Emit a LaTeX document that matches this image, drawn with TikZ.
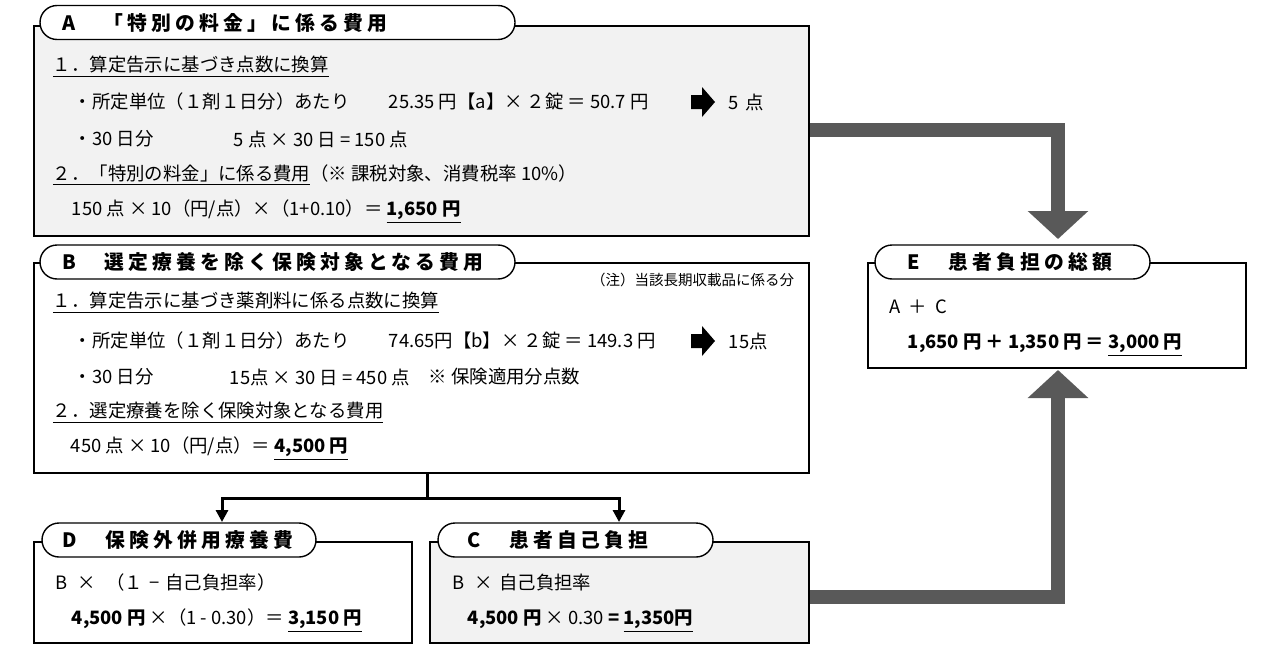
\documentclass[tikz,border=0pt]{standalone}
\usepackage{fontspec}
\setmainfont{Noto Sans CJK JP}
\newfontfamily\titlefont[LetterSpace=21]{Noto Sans CJK JP}
\usepackage{xcolor}
\usepackage{tikz}
\usetikzlibrary{shapes, arrows.meta, positioning, calc}

\definecolor{panelgray}{HTML}{F2F2F2}
\definecolor{arrowgray}{HTML}{595959}

\begin{document}
\begin{tikzpicture}[x=0.5pt, y=-0.5pt, thick,
    font=\fontsize{9.2pt}{11pt}\selectfont,
    panel/.style={draw, line width=0.9pt, anchor=north west, inner sep=0},
    pill/.style={rounded rectangle, draw, line width=0.7pt, fill=white, inner sep=0, minimum height=17pt},
    ttl/.style={anchor=west, inner sep=0, font=\titlefont\bfseries\fontsize{9.9pt}{12pt}\selectfont},
    txt/.style={anchor=west, inner sep=0},
    note/.style={anchor=east, inner sep=0, font=\fontsize{7.25pt}{9pt}\selectfont},
    conn/.style={line width=1.5pt},
    bigarrow/.style={line width=7pt, arrowgray, -{Triangle[length=14pt, width=29.5pt]}}]
    \useasboundingbox (0,0) rectangle (1270,648);

    % Boxes
    \node[panel, fill=panelgray, minimum width=387.5pt, minimum height=105pt] (boxA) at (33,25) {};
    \node[panel, fill=white, minimum width=387.5pt, minimum height=105pt] (boxB) at (33,262) {};
    \node[panel, fill=white, minimum width=189pt, minimum height=50.5pt] (boxD) at (33,541) {};
    \node[panel, fill=panelgray, minimum width=189.5pt, minimum height=50.5pt] (boxC) at (429,541) {};
    \node[panel, fill=white, minimum width=189pt, minimum height=52.5pt] (boxE) at (867,262) {};

    % Title tabs
    \node[pill, minimum width=237.5pt] (tabA) at (277.5,22.5) {};
    \node[pill, minimum width=237.5pt] (tabB) at (277.5,262) {};
    \node[pill, minimum width=137pt] (tabD) at (179,540) {};
    \node[pill, minimum width=137.5pt] (tabC) at (575.5,540) {};
    \node[pill, minimum width=137.5pt] (tabE) at (1012.5,262) {};

    \node[ttl] (ttlA) at (62,22.5) {A　「特別の料金」に係る費用};
    \node[ttl] (ttlB) at (62,262) {B　選定療養を除く保険対象となる費用};
    \node[ttl] (ttlD) at (62,540) {D　保険外併用療養費};
    \node[ttl] (ttlC) at (467,540) {C　患者自己負担};
    \node[ttl] (ttlE) at (907,262) {E　患者負担の総額};

    % A
    \node[txt] (a1) at (52,67) {\underline{１．算定告示に基づき点数に換算}};
    \node[txt] (a2) at (73,102) {・所定単位（１剤１日分）あたり};
    \node[txt] (a2calc) at (388,102) {25.35 円【a】× ２錠 ＝ 50.7 円};
    \coordinate (arrA) at (703,102);
    \node[txt] (a2pt) at (728,102) {5\hspace{3pt}点};
    \node[txt] (a3) at (73,139) {・30 日分};
    \node[txt] (a3calc) at (233,139) {5 点 × 30 日 = 150 点};
    \node[txt] (a4) at (52,175) {\underline{２．「特別の料金」に係る費用}（※ 課税対象、消費税率 10\%）};
    \node[txt] (a5) at (71,212) {150 点 × 10（円/点）×（1+0.10）＝ \textbf{\underline{1,650 円}}};

    % B
    \node[note] (bnote) at (795,280) {（注）当該長期収載品に係る分};
    \node[txt] (b1) at (52,303) {\underline{１．算定告示に基づき薬剤料に係る点数に換算}};
    \node[txt] (b2) at (73,341) {・所定単位（１剤１日分）あたり};
    \node[txt] (b2calc) at (388,341) {74.65円【b】× ２錠 ＝ 149.3 円};
    \coordinate (arrB) at (703,341);
    \node[txt] (b2pt) at (728,341) {15点};
    \node[txt] (b3) at (73,377) {・30 日分};
    \node[txt] (b3calc) at (229,377) {15点 × 30 日 = 450 点};
    \node[txt] (b3note) at (428,377) {※ 保険適用分点数};
    \node[txt] (b4) at (52,413) {\underline{２．選定療養を除く保険対象となる費用}};
    \node[txt] (b5) at (70,449) {450 点 × 10（円/点）＝ \textbf{\underline{4,500 円}}};

    % D
    \node[txt] (d1) at (55,583) {B\hspace{5pt}×\hspace{5pt}（１\hspace{3pt}−\hspace{3pt}自己負担率）};
    \node[txt] (d2) at (71,621) {\textbf{4,500 円} ×（1 - 0.30）＝ \textbf{\underline{3,150 円}}};

    % C
    \node[txt] (c1) at (452,583) {B\hspace{5pt}×\hspace{3pt}自己負担率};
    \node[txt] (c2) at (467,621) {\textbf{4,500 円} × 0.30 \textbf{= \underline{1,350円}}};

    % E
    \node[txt] (e1) at (889,307) {A\hspace{4pt}＋\hspace{4pt}C};
    \node[txt] (e2) at (907,345) {\textbf{1,650 円\hspace{2pt}＋\hspace{2pt}1,350 円\hspace{2pt}＝\hspace{2pt}\underline{3,000 円}}};

    % Block arrows
    \fill ($(arrA)+(-12,-7)$) -- ++(11,0) -- ++(0,-8) -- ++(13,15) -- ++(-13,15) -- ++(0,-8) -- ++(-11,0) -- cycle;
    \fill ($(arrB)+(-12,-7)$) -- ++(11,0) -- ++(0,-8) -- ++(13,15) -- ++(-13,15) -- ++(0,-8) -- ++(-11,0) -- cycle;

    % Split B into D and C
    \coordinate (split) at (427,498);
    \coordinate (toD) at (222,522);
    \coordinate (toC) at (619,522);
    \draw[conn] (split |- boxB.south) -- (split);
    \draw[conn, -{Triangle[length=6pt, width=6pt]}] (split) -| (toD);
    \draw[conn, -{Triangle[length=6pt, width=6pt]}] (split) -| (toC);

    % A and C into E
    \coordinate (fromA) at (1058,239);
    \coordinate (fromC) at (1058,370);
    \draw[bigarrow] (boxA.east |- 0,130) -| (fromA);
    \draw[bigarrow] (boxC.east |- 0,597) -| (fromC);
\end{tikzpicture}
\end{document}
